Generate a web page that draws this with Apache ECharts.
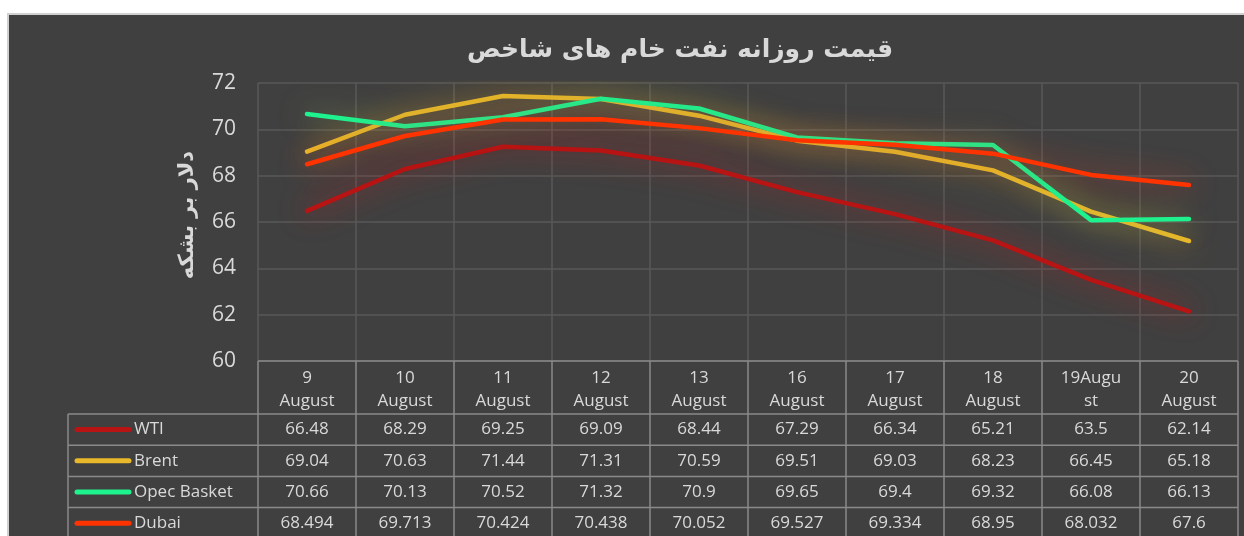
<!DOCTYPE html>
<html>
<head>
<meta charset="utf-8">
<script src="https://cdn.jsdelivr.net/npm/echarts@6/dist/echarts.min.js"></script>
<style>
html, body { margin: 0; padding: 0; background: #ffffff; }
#wrap { position: relative; width: 1244px; height: 536px; overflow: hidden; }
#panel { position: absolute; left: 7px; top: 13px; width: 1250px; height: 540px; background: #404040;
  border-left: 2px solid #d0d0d0; border-top: 2px solid #d0d0d0; }
#chart { position: absolute; left: 0; top: 0; width: 1244px; height: 536px; }
</style>
</head>
<body>
<div id="wrap"><div id="panel"></div><div id="chart"></div></div>
<script>
var chart = echarts.init(document.getElementById('chart'));

// 日期（表头）
var categories = ['9 August', '10 August', '11 August', '12 August', '13 August',
    '16 August', '17 August', '18 August', '19August', '20 August'];
var headerLabels = ['9\nAugust', '10\nAugust', '11\nAugust', '12\nAugust', '13\nAugust',
    '16\nAugust', '17\nAugust', '18\nAugust', '19Augu\nst', '20\nAugust'];

// 各油价
var wti = [66.48, 68.29, 69.25, 69.09, 68.44, 67.29, 66.34, 65.21, 63.5, 62.14];
var brent = [69.04, 70.63, 71.44, 71.31, 70.59, 69.51, 69.03, 68.23, 66.45, 65.18];
var opec = [70.66, 70.13, 70.52, 71.32, 70.9, 69.65, 69.4, 69.32, 66.08, 66.13];
var dubai = [68.494, 69.713, 70.424, 70.438, 70.052, 69.527, 69.334, 68.95, 68.032, 67.6];

var yTicks = { min: 60, max: 72, interval: 2 };

var seriesList = [
    { name: 'WTI', data: wti, color: '#b81414', glow: 'rgba(200,30,30,0.9)' },
    { name: 'Brent', data: brent, color: '#e8b82a', glow: 'rgba(230,170,40,0.85)' },
    { name: 'Opec Basket', data: opec, color: '#1ef28e', glow: 'rgba(140,180,90,0.7)' },
    { name: 'Dubai', data: dubai, color: '#ff3300', glow: 'rgba(235,60,30,0.75)' }
];

var textColor = '#d9d9d9';
var gridColor = '#585858';
var tableColor = '#8a8a8a';
var font = '"Open Sans", "DejaVu Sans", sans-serif';

var option = {
    animation: false,
    backgroundColor: 'transparent',
    title: {
        text: 'قیمت روزانه نفت خام های شاخص',
        left: 675,
        top: 33,
        textAlign: 'center',
        textStyle: { color: textColor, fontSize: 25, fontWeight: 'bold', fontFamily: '"DejaVu Sans", sans-serif' }
    },
    grid: { left: 258, right: 6, top: 83, bottom: 175 },
    xAxis: {
        type: 'category',
        data: categories,
        boundaryGap: true,
        axisLine: { show: false },
        axisTick: { show: false },
        splitLine: { show: true, interval: 0, lineStyle: { color: gridColor, width: 1.5 } },
        axisLabel: {
            interval: 0,
            margin: 6,
            color: textColor,
            fontSize: 17,
            lineHeight: 23,
            fontFamily: font,
            formatter: function (v, i) { return headerLabels[i]; }
        }
    },
    yAxis: {
        type: 'value',
        min: yTicks.min,
        max: yTicks.max,
        interval: yTicks.interval,
        name: 'دلار بر بشکه',
        nameLocation: 'middle',
        nameRotate: 90,
        nameGap: 60,
        nameTextStyle: { color: textColor, fontSize: 21, fontWeight: 'bold', fontFamily: '"DejaVu Sans", sans-serif', padding: [0, 0, 0, 14] },
        axisLine: { show: false },
        axisTick: { show: false },
        axisLabel: { color: textColor, fontSize: 21, margin: 22, fontFamily: font },
        splitLine: { lineStyle: { color: gridColor, width: 1.5 } }
    },
    series: seriesList.map(function (s) {
        return {
            name: s.name,
            type: 'line',
            data: s.data,
            symbol: 'none',
            lineStyle: { color: s.color, width: 4.5, cap: 'round', join: 'round', shadowBlur: 28, shadowColor: s.glow },
            itemStyle: { color: s.color }
        };
    })
};

chart.setOption(option);

// 数据表格
function buildTable() {
    var g = [];
    var n = categories.length;
    var c0 = chart.convertToPixel({ xAxisIndex: 0 }, 0);
    var c1 = chart.convertToPixel({ xAxisIndex: 0 }, 1);
    var band = c1 - c0;
    var left = c0 - band / 2;
    var right = left + band * n;
    var top = chart.convertToPixel({ yAxisIndex: 0 }, yTicks.min);
    var headBottom = 414;
    var rowH = 31.2;
    var legendLeft = 68;
    var bottom = 560;
    var ls = { stroke: tableColor, lineWidth: 1.5 };

    // 横线
    g.push({ type: 'line', z: 100, shape: { x1: left, y1: top, x2: right, y2: top }, style: ls });
    for (var r = 0; r <= seriesList.length; r++) {
        var y = headBottom + r * rowH;
        g.push({ type: 'line', z: 100, shape: { x1: legendLeft, y1: y, x2: right, y2: y }, style: ls });
    }
    // 竖线
    g.push({ type: 'line', z: 100, shape: { x1: legendLeft, y1: headBottom, x2: legendLeft, y2: bottom }, style: ls });
    for (var i = 0; i <= n; i++) {
        var x = left + i * band;
        g.push({ type: 'line', z: 100, shape: { x1: x, y1: top, x2: x, y2: bottom }, style: ls });
    }
    // 图例和数值
    seriesList.forEach(function (s, r) {
        var cy = headBottom + r * rowH + rowH / 2;
        g.push({ type: 'line', z: 101, shape: { x1: 77, y1: cy, x2: 129, y2: cy },
            style: { stroke: s.color, lineWidth: 5, lineCap: 'round' } });
        g.push({ type: 'text', z: 101, x: 134, y: cy,
            style: { text: s.name, fill: textColor, font: '17px ' + font, align: 'left', verticalAlign: 'middle' } });
        s.data.forEach(function (v, i) {
            var cx = chart.convertToPixel({ xAxisIndex: 0 }, i);
            g.push({ type: 'text', z: 101, x: cx, y: cy,
                style: { text: String(v), fill: textColor, font: '17px ' + font, align: 'center', verticalAlign: 'middle' } });
        });
    });
    chart.setOption({ graphic: g });
}
buildTable();
</script>
</body>
</html>
